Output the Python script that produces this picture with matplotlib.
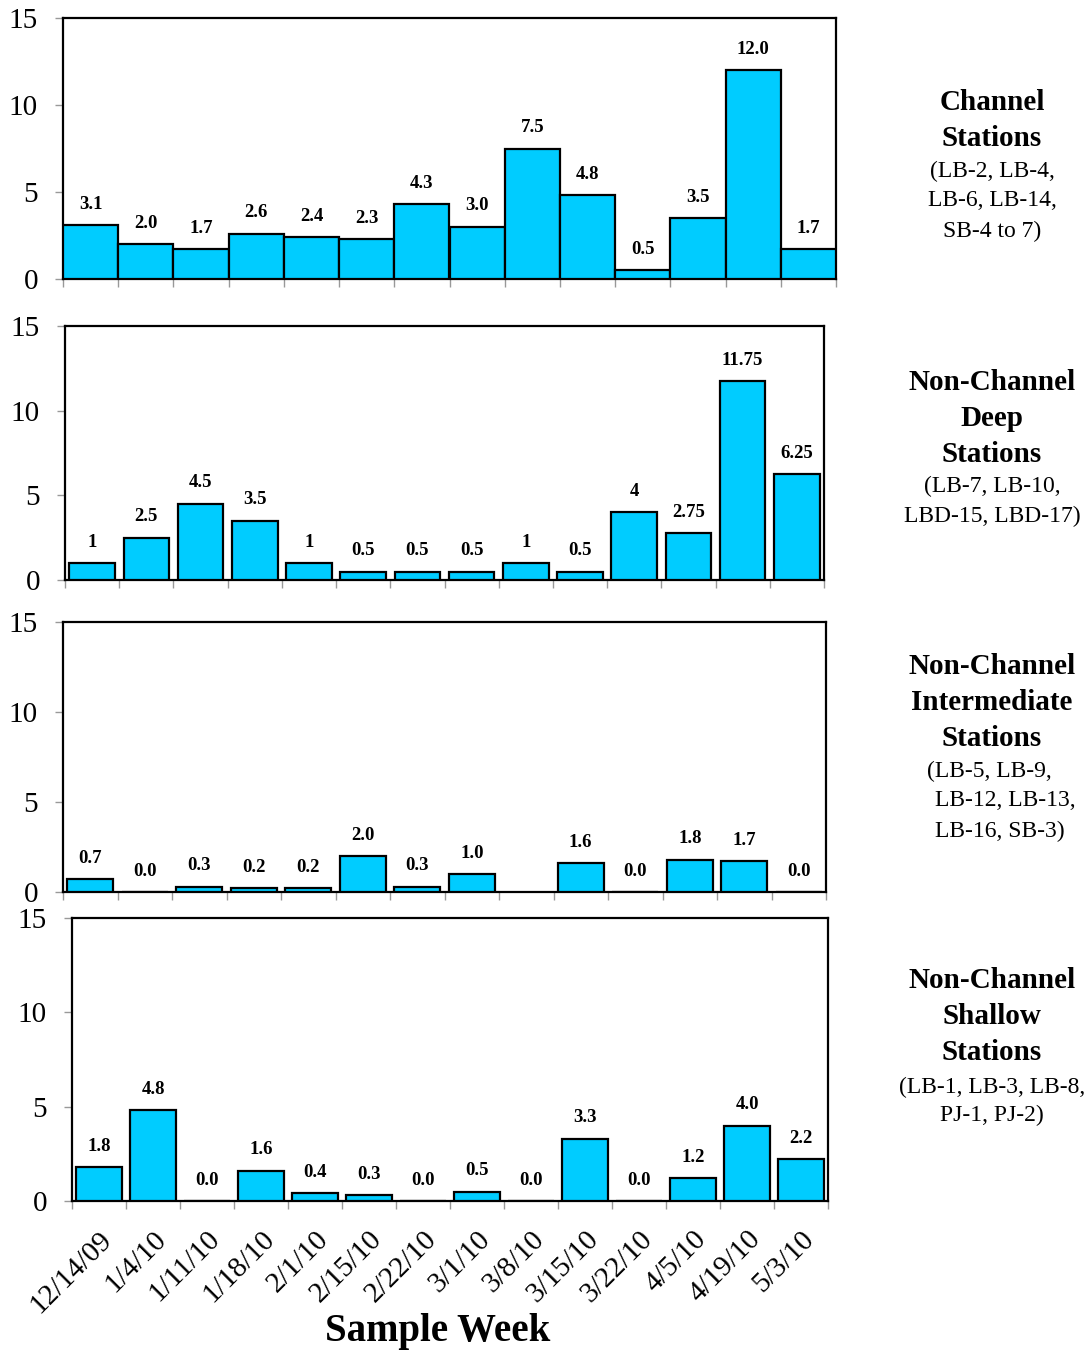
import numpy as np
import matplotlib
matplotlib.use("Agg")
import matplotlib.pyplot as plt
from matplotlib.ticker import FixedLocator

plt.rcParams['font.family'] = ['Liberation Serif', 'DejaVu Serif']

weeks = ["12/14/09", "1/4/10", "1/11/10", "1/18/10", "2/1/10", "2/15/10", "2/22/10",
         "3/1/10", "3/8/10", "3/15/10", "3/22/10", "4/5/10", "4/19/10", "5/3/10"]

channel = [3.1, 2.0, 1.7, 2.6, 2.4, 2.3, 4.3, 3.0, 7.5, 4.8, 0.5, 3.5, 12.0, 1.7]
deep = [1, 2.5, 4.5, 3.5, 1, 0.5, 0.5, 0.5, 1, 0.5, 4, 2.75, 11.75, 6.25]
intermediate = [0.7, 0.0, 0.3, 0.2, 0.2, 2.0, 0.3, 1.0, np.nan, 1.6, 0.0, 1.8, 1.7, 0.0]
shallow = [1.8, 4.8, 0.0, 1.6, 0.4, 0.3, 0.0, 0.5, 0.0, 3.3, 0.0, 1.2, 4.0, 2.2]

panel_titles = [
    ["Channel", "Stations"],
    ["Non-Channel", "Deep", "Stations"],
    ["Non-Channel", "Intermediate", "Stations"],
    ["Non-Channel", "Shallow", "Stations"],
]
panel_subs = [
    ["(LB-2, LB-4,", "LB-6, LB-14,", "SB-4 to 7)"],
    ["(LB-7, LB-10,", "LBD-15, LBD-17)"],
    ["(LB-5, LB-9,", "LB-12, LB-13,", "LB-16, SB-3)"],
    ["(LB-1, LB-3, LB-8,", "PJ-1, PJ-2)"],
]
label_fmts = ["{:.1f}", "{:g}", "{:.1f}", "{:.1f}"]

W, H = 1091, 1353
fig = plt.figure(figsize=(W / 100, H / 100), dpi=100)

# axes boxes in pixels: left, right, top, bottom
boxes = [(63, 836, 18, 279), (65, 824, 326, 580), (63, 826, 622, 892), (72, 828, 918, 1201)]
bar_widths = [1.0, 0.84, 0.84, 0.84]
series = [channel, deep, intermediate, shallow]

# right-side text positions (pixel y of each line)
title_ys = [[103, 139], [382, 418, 454], [667, 703, 739], [981, 1017, 1053]]
sub_ys = [[171, 201, 231], [486, 516], [771, 801, 831], [1087, 1115]]

bar_color = "#00CCFF"
x = np.arange(len(weeks))

for i, (box, vals) in enumerate(zip(boxes, series)):
    l, r, t, b = box
    ax = fig.add_axes([l / W, 1 - b / H, (r - l) / W, (b - t) / H])
    ax.bar(x, vals, width=bar_widths[i], color=bar_color, edgecolor="black", linewidth=1.6, zorder=3)
    ax.set_xlim(-0.5, len(weeks) - 0.5)
    ax.set_ylim(0, 15)
    ax.set_yticks([0, 5, 10, 15])
    for s in ax.spines.values():
        s.set_linewidth(1.6)
        s.set_color("black")
    ax.tick_params(axis='y', which='major', direction='out', length=6, width=1, color='#999999',
                   labelsize=21, pad=12)
    ax.xaxis.set_major_locator(FixedLocator(x))
    ax.xaxis.set_minor_locator(FixedLocator(np.arange(-0.5, len(weeks), 1.0)))
    ax.tick_params(axis='x', which='minor', direction='out', length=6, width=1, color='#999999')
    ax.tick_params(axis='x', which='major', length=0)
    if i == 3:
        ax.set_xticklabels(weeks, rotation=45, ha='right', va='top', rotation_mode='anchor', fontsize=21)
        ax.tick_params(axis='x', which='major', pad=18)
    else:
        ax.set_xticklabels([])
    for xi, v in zip(x, vals):
        if np.isnan(v):
            continue
        ax.annotate(label_fmts[i].format(v), (xi, v), xytext=(0, 15), textcoords='offset points',
                    ha='center', va='center', fontsize=13.5, fontweight='bold', zorder=4)

    for txt, yy in zip(panel_titles[i], title_ys[i]):
        fig.text(992 / W, 1 - yy / H, txt, ha='center', va='center', fontsize=21, fontweight='bold')
    for j, (txt, yy) in enumerate(zip(panel_subs[i], sub_ys[i])):
        if i == 2:
            xx = 927 if j == 0 else 935
            fig.text(xx / W, 1 - yy / H, txt, ha='left', va='center', fontsize=17)
        else:
            fig.text(992 / W, 1 - yy / H, txt, ha='center', va='center', fontsize=17)

fig.text(438 / W, 1 - 1331 / H, "Sample Week", ha='center', va='center', fontsize=28, fontweight='bold')

fig.savefig("out.png", dpi=100)
